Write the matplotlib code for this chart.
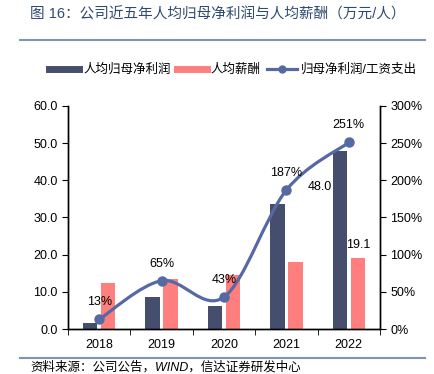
"""Per-capita net profit vs per-capita salary, 2018-2022."""

import matplotlib
matplotlib.use("Agg")
import matplotlib.pyplot as plt
from matplotlib.lines import Line2D
from matplotlib.path import Path
from matplotlib.patches import PathPatch

plt.rcParams["font.family"] = ["Liberation Sans", "Noto Sans CJK SC", "DejaVu Sans"]

years = ["2018", "2019", "2020", "2021", "2022"]
profit_per_head = [1.6, 8.7, 6.2, 33.6, 48.0]
salary_per_head = [12.3, 13.4, 14.5, 17.9, 19.1]
profit_to_salary = [13, 65, 43, 187, 251]

DARK = "#454E6C"
PINK = "#FF7F7F"
LINE = "#5569A3"
TITLE_C = "#2E4A6E"
RULE_C = "#7F93B2"


def smooth_path(xs, ys):
    """Catmull-Rom curve through the points, as cubic Bezier segments."""
    pts = list(zip(xs, ys))
    verts = [pts[0]]
    codes = [Path.MOVETO]
    n = len(pts)
    for i in range(n - 1):
        p0 = pts[i - 1] if i > 0 else pts[i]
        p1, p2 = pts[i], pts[i + 1]
        p3 = pts[i + 2] if i + 2 < n else pts[i + 1]
        c1 = (p1[0] + (p2[0] - p0[0]) / 6, p1[1] + (p2[1] - p0[1]) / 6)
        c2 = (p2[0] - (p3[0] - p1[0]) / 6, p2[1] - (p3[1] - p1[1]) / 6)
        verts += [c1, c2, p2]
        codes += [Path.CURVE4] * 3
    return Path(verts, codes)


fig = plt.figure(figsize=(4.35, 3.74), dpi=100)
ax = fig.add_axes([68 / 435, 1 - 329 / 374, 312 / 435, 223 / 374])
ax2 = ax.twinx()

x = list(range(len(years)))
w = 0.23
ax.bar([i - 0.145 for i in x], profit_per_head, w, color=DARK, zorder=2)
ax.bar([i + 0.145 for i in x], salary_per_head, w, color=PINK, zorder=2)

ax.set_xlim(-0.5, len(years) - 0.5)
ax.set_ylim(0, 60)
ax.set_yticks(range(0, 61, 10))
ax.set_yticklabels([f"{v:.1f}" for v in range(0, 61, 10)])
ax.set_xticks(x)
ax.set_xticklabels(years)
ax.set_xticks([i - 0.5 for i in range(len(years) + 1)], minor=True)
ax.tick_params(axis="x", which="major", length=0, labelsize=9, pad=7)
ax.tick_params(axis="x", which="minor", length=4, direction="out")
ax.tick_params(axis="y", labelsize=9, length=4)

ax2.set_ylim(0, 300)
ax2.set_yticks(range(0, 301, 50))
ax2.set_yticklabels([f"{v}%" for v in range(0, 301, 50)])
ax2.tick_params(axis="y", labelsize=9, length=4)

for a in (ax, ax2):
    a.spines["top"].set_visible(False)
    for s in a.spines.values():
        s.set_linewidth(1.0)

ax2.add_patch(PathPatch(smooth_path(x, profit_to_salary), fill=False,
                        edgecolor=LINE, lw=2.3, zorder=3))
ax2.plot(x, profit_to_salary, "o", color=LINE, ms=6.5, zorder=4)
ax.set_zorder(ax2.get_zorder() - 1)
ax.patch.set_visible(False)

for i, v in enumerate(profit_to_salary):
    ax2.text(i, v + 23, f"{v}%", ha="center", va="center", fontsize=9)

ax.text(3.54, 38.2, f"{profit_per_head[-1]:.1f}", ha="center", va="center", fontsize=9)
ax.text(4.15, 22.6, f"{salary_per_head[-1]:.1f}", ha="center", va="center", fontsize=9)

handles = [
    Line2D([], [], color=DARK, lw=5),
    Line2D([], [], color=PINK, lw=5),
    Line2D([], [], color=LINE, lw=2.3, marker="o", ms=5),
]
labels = ["人均归母净利润", "人均薪酬", "归母净利润/工资支出"]
fig.legend(handles, labels, loc="center", bbox_to_anchor=(233 / 435, 1 - 70 / 374),
           ncol=3, frameon=False, fontsize=9, handlelength=2.4,
           columnspacing=0.5, handletextpad=0.3)

fig.text(30 / 435, 1 - 14 / 374, "图 16：公司近五年人均归母净利润与人均薪酬（万元/人）",
         fontsize=10.5, color=TITLE_C, va="center")
fig.add_artist(Line2D([20 / 435, 425 / 435], [1 - 40 / 374] * 2, color=RULE_C, lw=1.5))
fig.add_artist(Line2D([20 / 435, 425 / 435], [1 - 358 / 374] * 2, color=RULE_C, lw=1.5))
fig.text(30 / 435, 1 - 367 / 374, "资料来源：公司公告，WIND，信达证券研发中心",
         fontsize=9, style="italic", va="center")

fig.savefig("out.png", dpi=100)
